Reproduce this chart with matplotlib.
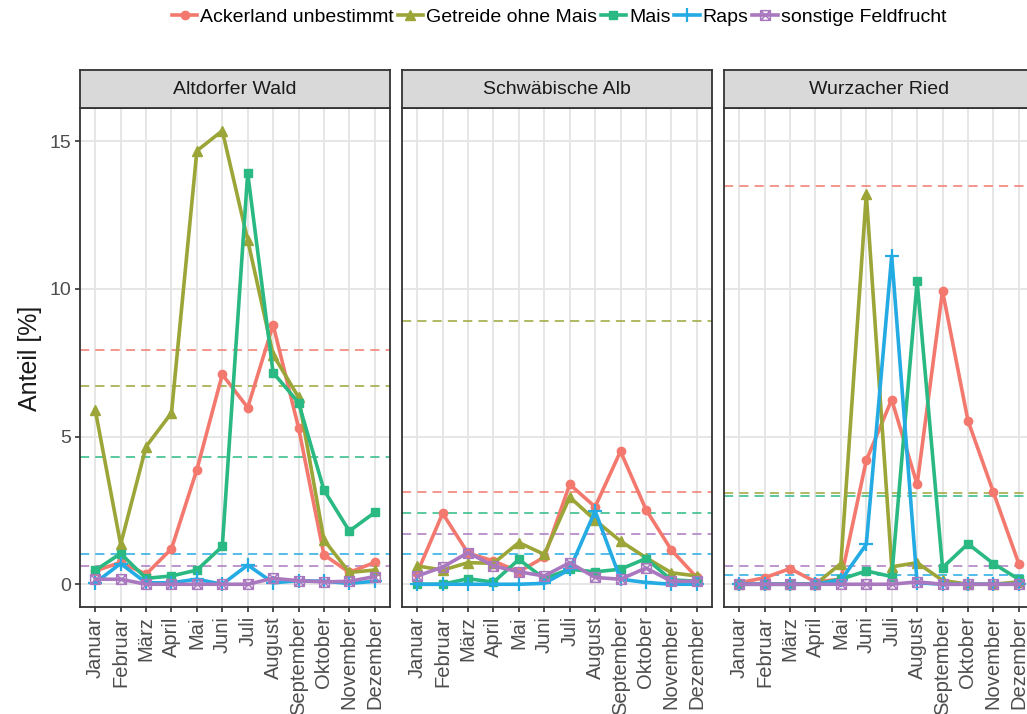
import matplotlib
matplotlib.use("Agg")
import matplotlib.pyplot as plt
from matplotlib.path import Path
import numpy as np

plt.rcParams['font.family'] = ['Liberation Sans', 'DejaVu Sans']

monate = ["Januar", "Februar", "März", "April", "Mai", "Juni", "Juli",
          "August", "September", "Oktober", "November", "Dezember"]
gebiete = ["Altdorfer Wald", "Schwäbische Alb", "Wurzacher Ried"]
klassen = ["Ackerland unbestimmt", "Getreide ohne Mais", "Mais", "Raps",
           "sonstige Feldfrucht"]

# Monatliche Anteile [%] je Gebiet und Klasse
altdorf_acker = [0.45, 0.74, 0.34, 1.2, 3.88, 7.1, 5.98, 8.78, 5.3, 1.0, 0.4, 0.74]
altdorf_getreide = [5.9, 1.35, 4.66, 5.8, 14.67, 15.35, 11.65, 7.77, 6.33, 1.5, 0.4, 0.48]
altdorf_mais = [0.47, 1.04, 0.2, 0.28, 0.48, 1.28, 13.92, 7.16, 6.15, 3.19, 1.8, 2.43]
altdorf_raps = [0.05, 0.7, 0.05, 0.05, 0.17, 0.0, 0.65, 0.05, 0.12, 0.1, 0.03, 0.1]
altdorf_sonst = [0.17, 0.17, 0.0, 0.0, 0.0, 0.0, 0.0, 0.2, 0.12, 0.08, 0.1, 0.26]

alb_acker = [0.39, 2.4, 1.05, 0.79, 0.42, 0.92, 3.38, 2.62, 4.5, 2.53, 1.16, 0.23]
alb_getreide = [0.62, 0.48, 0.73, 0.71, 1.41, 1.01, 2.95, 2.17, 1.46, 0.9, 0.39, 0.28]
alb_mais = [0.0, 0.0, 0.19, 0.07, 0.84, 0.19, 0.51, 0.42, 0.51, 0.87, 0.15, 0.1]
alb_raps = [0.0, 0.0, 0.0, 0.0, 0.0, 0.03, 0.5, 2.48, 0.17, 0.06, 0.0, 0.0]
alb_sonst = [0.28, 0.58, 1.07, 0.62, 0.42, 0.28, 0.73, 0.23, 0.17, 0.55, 0.1, 0.1]

ried_acker = [0.05, 0.22, 0.53, 0.08, 0.17, 4.19, 6.25, 3.38, 9.93, 5.54, 3.12, 0.7]
ried_getreide = [0.0, 0.0, 0.0, 0.0, 0.7, 13.2, 0.59, 0.73, 0.13, 0.0, 0.0, 0.08]
ried_mais = [0.0, 0.0, 0.0, 0.0, 0.17, 0.45, 0.26, 10.25, 0.56, 1.37, 0.7, 0.17]
ried_raps = [0.0, 0.0, 0.0, 0.0, 0.13, 1.35, 11.11, 0.05, 0.0, 0.0, 0.0, 0.0]
ried_sonst = [0.0, 0.0, 0.0, 0.0, 0.0, 0.0, 0.0, 0.08, 0.0, 0.0, 0.0, 0.0]

# Jahresmittel (gestrichelte Linien)
altdorf_mittel = [7.92, 6.7, 4.3, 1.01, 0.62]
alb_mittel = [3.12, 8.9, 2.42, 1.01, 1.71]
ried_mittel = [13.48, 3.1, 3.0, 0.32, 0.62]

daten = {
    "Altdorfer Wald": [altdorf_acker, altdorf_getreide, altdorf_mais, altdorf_raps, altdorf_sonst],
    "Schwäbische Alb": [alb_acker, alb_getreide, alb_mais, alb_raps, alb_sonst],
    "Wurzacher Ried": [ried_acker, ried_getreide, ried_mais, ried_raps, ried_sonst],
}
mittel = {
    "Altdorfer Wald": altdorf_mittel,
    "Schwäbische Alb": alb_mittel,
    "Wurzacher Ried": ried_mittel,
}

farben = ["#F3796E", "#9CA537", "#2BB983", "#24ABE3", "#A978BE"]

# Quadrat mit Kreuz als Marker
kreuzquadrat = Path(
    [(-1, -1), (1, -1), (1, 1), (-1, 1), (-1, -1), (1, 1), (-1, 1), (1, -1)],
    [Path.MOVETO, Path.LINETO, Path.LINETO, Path.LINETO, Path.LINETO,
     Path.LINETO, Path.MOVETO, Path.LINETO])
marker_stile = [
    dict(marker="o", markersize=6),
    dict(marker="^", markersize=7),
    dict(marker="s", markersize=6),
    dict(marker="+", markersize=10, markeredgewidth=1.6),
    dict(marker=kreuzquadrat, markersize=7, markerfacecolor="none", markeredgewidth=1.1),
]

W, H = 1027, 714
fig = plt.figure(figsize=(W / 100, H / 100), dpi=100)

x = np.arange(1, 13)
lefts = [80, 402, 724]
pw = 310
top, bottom = 108, 607
strip_top = 70

handles = []
for i, gebiet in enumerate(gebiete):
    ax = fig.add_axes([lefts[i] / W, 1 - bottom / H, pw / W, (bottom - top) / H])
    ax.set_xlim(0.4, 12.6)
    ax.set_ylim(-0.77, 16.12)
    ax.set_xticks(x)
    ax.set_xticklabels(monate, rotation=90, fontsize=14.5, color="#4D4D4D")
    ax.set_yticks([0, 5, 10, 15])
    if i == 0:
        ax.set_yticklabels(["0", "5", "10", "15"], fontsize=14, color="#4D4D4D")
        ax.tick_params(axis="y", length=3.6, width=1.2, color="#333333", pad=3)
    else:
        ax.tick_params(axis="y", length=0, labelleft=False)
    ax.tick_params(axis="x", length=3.6, width=1.2, color="#333333", pad=3)
    ax.grid(True, color="#E6E6E6", linewidth=1.4)
    ax.set_axisbelow(True)
    for s in ax.spines.values():
        s.set_color("#333333")
        s.set_linewidth(1.3)

    for k in range(5):
        ax.axhline(mittel[gebiet][k], color=farben[k], linestyle=(0, (6, 4)),
                   linewidth=1.1, zorder=2)
    for k in range(5):
        st = dict(marker_stile[k])
        st.setdefault("markerfacecolor", farben[k])
        (ln,) = ax.plot(x, daten[gebiet][k], color=farben[k], linewidth=2.6,
                        markeredgecolor=farben[k], label=klassen[k], zorder=3, **st)
        if i == 0:
            handles.append(ln)

    # Facettenkopf
    sax = fig.add_axes([lefts[i] / W, 1 - top / H, pw / W, (top - strip_top) / H])
    sax.set_facecolor("#D9D9D9")
    sax.set_xticks([])
    sax.set_yticks([])
    for s in sax.spines.values():
        s.set_color("#333333")
        s.set_linewidth(1.3)
    sax.text(0.5, 0.5, gebiet, ha="center", va="center", fontsize=14,
             color="#1A1A1A", transform=sax.transAxes)

fig.text(30 / W, 1 - 358 / H, "Anteil [%]", rotation=90, ha="center",
         va="center", fontsize=18, color="#1A1A1A")

fig.legend(handles=handles, loc="center", bbox_to_anchor=(559 / W, 1 - 17 / H),
           ncol=5, frameon=False, fontsize=14, handlelength=1.3,
           handletextpad=0.15, columnspacing=0.2, borderpad=0)

fig.savefig("out.png", dpi=100)
